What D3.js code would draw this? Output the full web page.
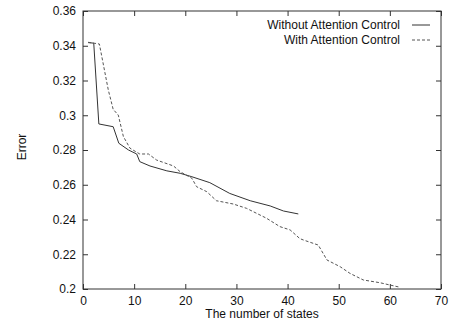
<!DOCTYPE html>
<html>
<head>
<meta charset="utf-8">
<script src="https://cdn.jsdelivr.net/npm/d3@7"></script>
<style>
  body { margin: 0; background: #fff; }
  text { font-family: "Liberation Sans", Arial, sans-serif; font-size: 12px; fill: #111; }
</style>
</head>
<body>
<script>
// data
var xTicks = [0, 10, 20, 30, 40, 50, 60, 70];
var yTicks = [0.2, 0.22, 0.24, 0.26, 0.28, 0.3, 0.32, 0.34, 0.36];
var seriesNames = ["Without Attention Control", "With Attention Control"];

var withoutX = [1, 2.1, 3.1, 5.9, 7.0, 8.9, 10.5, 11.1, 13.1, 16.4, 19.0, 21.3, 24.8, 28.7, 32.7, 36.6, 39.2, 42.1];
var withoutY = [0.3418, 0.3415, 0.2950, 0.2934, 0.2839, 0.2800, 0.2777, 0.2733, 0.2708, 0.2680, 0.2666, 0.2646, 0.2612, 0.2550, 0.2508, 0.2478, 0.2449, 0.2432];

var withX = [1, 3.2, 4.95, 5.9, 6.9, 7.9, 9.2, 11.1, 12.8, 14.4, 17.7, 19.0, 21.3, 22.2, 24.2, 26.1, 29.4, 32.0, 35.9, 38.5, 40.5, 42.4, 43.1, 46.0, 47.7, 50.3, 52.2, 54.8, 58.1, 60.0, 62.0];
var withY = [0.342, 0.341, 0.3145, 0.3034, 0.3001, 0.2877, 0.2810, 0.2777, 0.2777, 0.2742, 0.2708, 0.2675, 0.2637, 0.2589, 0.2560, 0.2508, 0.2489, 0.2464, 0.2407, 0.2359, 0.2340, 0.2290, 0.2282, 0.2253, 0.2167, 0.2128, 0.2090, 0.2052, 0.2036, 0.2023, 0.2010];

var W = 454, H = 325;
var mLeft = 83, mRight = 441, mTop = 11, mBottom = 289;

var svg = d3.select("body")
            .append("svg")
            .attr("width", W)
            .attr("height", H);

var x = d3.scaleLinear().domain([0, 70]).range([mLeft, mRight]);
var y = d3.scaleLinear().domain([0.2, 0.36]).range([mBottom, mTop]);

var tick = 5;

// axes: labels bottom and left, inward ticks on all four sides
svg.append("g")
  .attr("transform", "translate(0," + mBottom + ")")
  .call(d3.axisBottom(x).tickValues(xTicks).tickSize(-tick).tickPadding(7).tickFormat(d3.format("d")))
  .call(g => g.select(".domain").remove());

svg.append("g")
  .attr("transform", "translate(" + mLeft + ",0)")
  .call(d3.axisLeft(y).tickValues(yTicks).tickSize(-tick).tickPadding(7).tickFormat(d => String(+d.toFixed(2))))
  .call(g => g.select(".domain").remove());

svg.append("g")
  .attr("transform", "translate(0," + mTop + ")")
  .call(d3.axisTop(x).tickValues(xTicks).tickSize(-tick).tickFormat(""))
  .call(g => g.select(".domain").remove());

svg.append("g")
  .attr("transform", "translate(" + mRight + ",0)")
  .call(d3.axisRight(y).tickValues(yTicks).tickSize(-tick).tickFormat(""))
  .call(g => g.select(".domain").remove());

svg.selectAll(".tick text")
  .style("font-family", "'Liberation Sans', Arial, sans-serif")
  .style("font-size", "12px")
  .attr("fill", "#111");
svg.selectAll(".tick line").attr("stroke", "#333");

svg.append("rect")
  .attr("x", mLeft).attr("y", mTop)
  .attr("width", mRight - mLeft).attr("height", mBottom - mTop)
  .attr("fill", "none").attr("stroke", "#333").attr("stroke-width", 1);

// lines
var line = d3.line().x(d => x(d[0])).y(d => y(d[1]));

svg.append("path")
  .datum(d3.zip(withoutX, withoutY))
  .attr("d", line)
  .attr("fill", "none")
  .attr("stroke", "#333")
  .attr("stroke-width", 1);

svg.append("path")
  .datum(d3.zip(withX, withY))
  .attr("d", line)
  .attr("fill", "none")
  .attr("stroke", "#555")
  .attr("stroke-width", 1)
  .attr("stroke-dasharray", "3,2");

// legend
var legend = [
  { name: seriesNames[0], dash: null, color: "#333" },
  { name: seriesNames[1], dash: "3,2", color: "#555" }
];
legend.forEach(function(d, i) {
  var ly = 25 + i * 15;
  svg.append("text")
    .attr("x", 400)
    .attr("y", ly + 4)
    .attr("text-anchor", "end")
    .text(d.name);
  svg.append("line")
    .attr("x1", 412).attr("x2", 430)
    .attr("y1", ly).attr("y2", ly)
    .attr("stroke", d.color)
    .attr("stroke-dasharray", d.dash);
});

// axis titles
svg.append("text")
  .attr("x", (mLeft + mRight) / 2)
  .attr("y", 318)
  .attr("text-anchor", "middle")
  .text("The number of states");

svg.append("text")
  .attr("transform", "translate(26," + 147 + ") rotate(-90)")
  .attr("text-anchor", "middle")
  .text("Error");
</script>
</body>
</html>
